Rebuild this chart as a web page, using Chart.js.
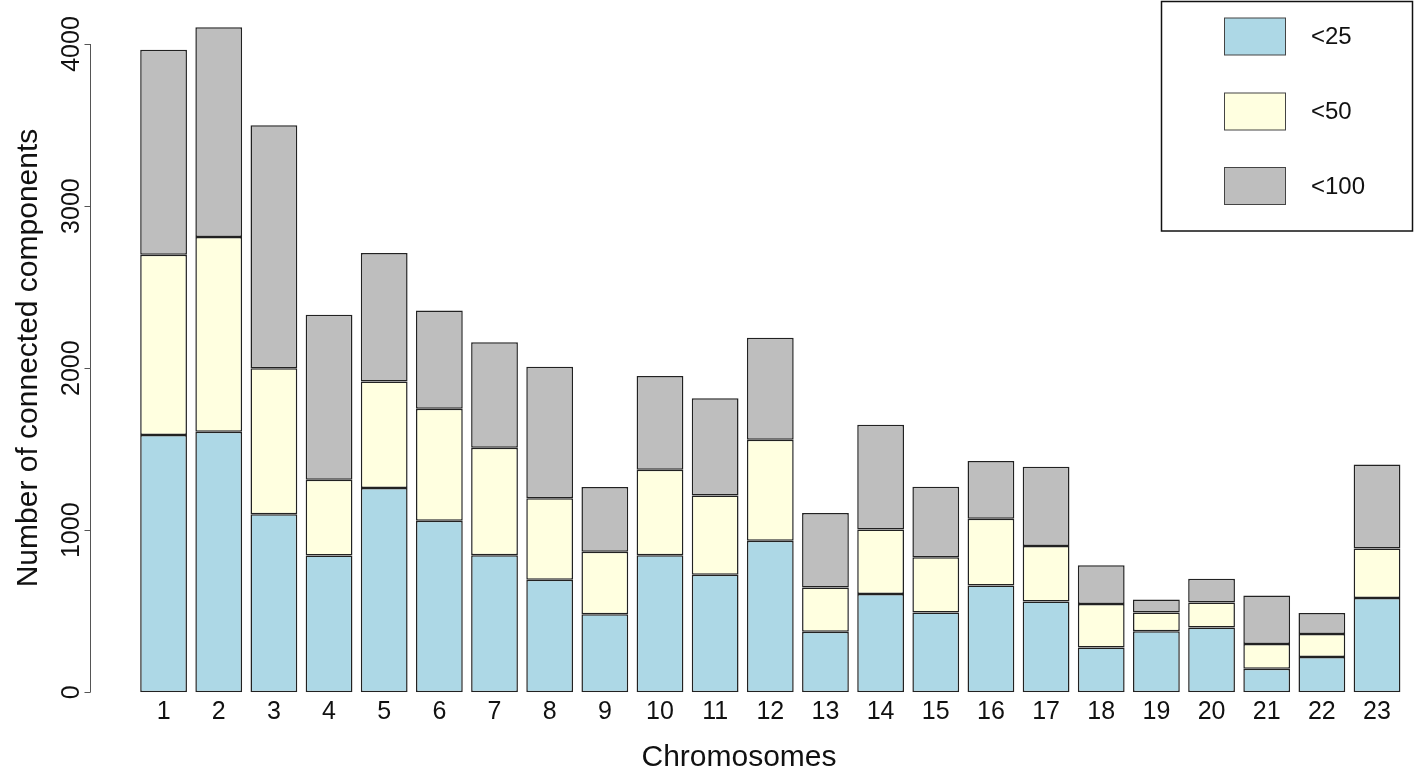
<!DOCTYPE html>
<html>
<head>
<meta charset="utf-8">
<script src="https://cdn.jsdelivr.net/npm/chart.js@4.4.1/dist/chart.umd.min.js"></script>
<style>
  html, body { margin: 0; padding: 0; background: #ffffff; }
  #wrap { width: 1415px; height: 775px; position: relative; }
  canvas { display: block; }
</style>
</head>
<body>
<div id="wrap"><canvas id="c" width="1415" height="775"></canvas></div>
<script>
// ---- Data ----
const chromosomes = ['1','2','3','4','5','6','7','8','9','10','11','12','13','14','15','16','17','18','19','20','21','22','23'];
const seriesLabels = ['<25', '<50', '<100'];
// segment heights of each stacked part
const under25  = [1587,1608,1098, 844,1260,1058, 846, 694, 482, 846, 725, 935, 373, 607, 492, 659, 560, 276, 377, 400, 146, 218, 582];
const under50  = [1112,1202, 902, 467, 657, 692, 663, 504, 385, 527, 490, 623, 274, 398, 342, 412, 342, 269, 115, 154, 152, 142, 306];
const under100 = [1266,1293,1498,1018, 794, 605, 651, 811, 399, 579, 599, 629, 459, 646, 434, 356, 490, 239,  81, 146, 299, 130, 518];
const yTickValues = [0, 1000, 2000, 3000, 4000];
const xTitle = 'Chromosomes';
const yTitle = 'Number of connected components';

const FONT = "'Liberation Sans', Arial, Helvetica, sans-serif";
const colors = ['#ADD8E6', '#FFFFE0', '#BEBEBE'];

// ---- R-style y axis: line 0..4000, outward ticks, rotated labels, titles ----
const rAxisPlugin = {
  id: 'rAxis',
  afterDraw(chart) {
    const ctx = chart.ctx;
    const y = chart.scales.y;
    const axisX = 90.5;
    ctx.save();
    ctx.strokeStyle = '#555';
    ctx.lineWidth = 1;
    const yTop = y.getPixelForValue(yTickValues[yTickValues.length - 1]);
    const yBot = y.getPixelForValue(yTickValues[0]);
    ctx.beginPath();
    ctx.moveTo(axisX, yTop);
    ctx.lineTo(axisX, yBot);
    yTickValues.forEach(v => {
      const py = Math.round(y.getPixelForValue(v)) + 0.5;
      ctx.moveTo(axisX, py);
      ctx.lineTo(axisX - 6, py);
    });
    ctx.stroke();

    ctx.fillStyle = '#111';
    ctx.font = '25px ' + FONT;
    ctx.textAlign = 'center';
    ctx.textBaseline = 'alphabetic';
    yTickValues.forEach(v => {
      const py = y.getPixelForValue(v);
      ctx.save();
      ctx.translate(78.5, py);
      ctx.rotate(-Math.PI / 2);
      ctx.fillText(String(v), 0, 0);
      ctx.restore();
    });

    ctx.font = '30px ' + FONT;
    ctx.save();
    ctx.translate(37, 358);
    ctx.rotate(-Math.PI / 2);
    ctx.fillText(yTitle, 0, 0);
    ctx.restore();

    // x axis title (centred on the R plot region)
    ctx.textBaseline = 'alphabetic';
    ctx.fillText(xTitle, 739, 766);
    ctx.restore();
  }
};

// ---- Boxed legend at top right ----
const boxLegendPlugin = {
  id: 'boxLegend',
  afterDraw(chart) {
    const ctx = chart.ctx;
    ctx.save();
    ctx.strokeStyle = '#111';
    ctx.lineWidth = 1.5;
    ctx.strokeRect(1161.5, 1.5, 251, 229.5);
    const rowCenters = [36.5, 111.5, 186];
    chart.data.datasets.forEach((ds, i) => {
      const cy = rowCenters[i];
      ctx.fillStyle = ds.backgroundColor;
      ctx.fillRect(1224.5, cy - 18.5, 61, 37);
      ctx.strokeStyle = '#444';
      ctx.lineWidth = 1;
      ctx.strokeRect(1224.5, cy - 18.5, 61, 37);
      ctx.fillStyle = '#111';
      ctx.font = '24px ' + FONT;
      ctx.textAlign = 'left';
      ctx.textBaseline = 'middle';
      ctx.fillText(ds.label, 1311, cy + 1);
    });
    ctx.restore();
  }
};

const whiteBg = {
  id: 'whiteBg',
  beforeDraw(chart) {
    const ctx = chart.ctx;
    ctx.save();
    ctx.fillStyle = '#ffffff';
    ctx.fillRect(0, 0, chart.width, chart.height);
    ctx.restore();
  }
};

const seriesValues = [under25, under50, under100];

new Chart(document.getElementById('c'), {
  type: 'bar',
  data: {
    labels: chromosomes,
    datasets: seriesLabels.map((lab, i) => ({
      label: lab,
      data: seriesValues[i],
      backgroundColor: colors[i],
      borderColor: '#222',
      borderWidth: 1.5,
      borderSkipped: false,
      barPercentage: 0.848,
      categoryPercentage: 1.0
    }))
  },
  options: {
    responsive: false,
    animation: false,
    devicePixelRatio: 1,
    layout: { padding: { top: 11.6, right: 10.4, bottom: 0, left: 0 } },
    plugins: {
      legend: { display: false },
      tooltip: { enabled: false },
      title: { display: false }
    },
    scales: {
      x: {
        stacked: true,
        offset: true,
        grid: { display: false, drawTicks: false },
        border: { display: false },
        ticks: {
          color: '#111',
          font: { family: FONT, size: 25 },
          padding: 5,
          maxRotation: 0,
          autoSkip: false
        },
        title: { display: false },
        afterFit(scale) { scale.height = 82.7; }
      },
      y: {
        stacked: true,
        min: 0,
        max: 4200,
        grid: { display: false, drawTicks: false },
        border: { display: false },
        ticks: { display: false },
        afterFit(scale) { scale.width = 136; }
      }
    }
  },
  plugins: [whiteBg, rAxisPlugin, boxLegendPlugin]
});
</script>
</body>
</html>
